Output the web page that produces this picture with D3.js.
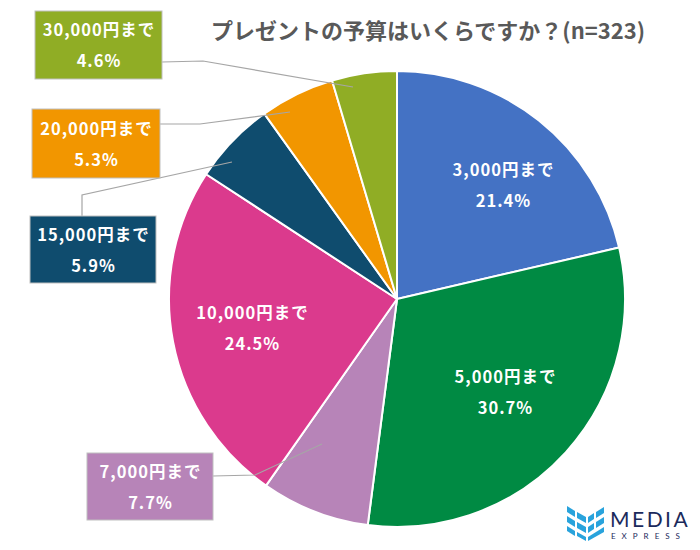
<!DOCTYPE html>
<html><head><meta charset="utf-8">
<script src="https://cdn.jsdelivr.net/npm/d3@7"></script>
<style>
html,body{margin:0;padding:0;background:#fff;}
svg{display:block;font-family:"Noto Sans CJK JP","Noto Sans",sans-serif;}
</style></head>
<body><svg id="c" width="700" height="550"></svg>
<script>
const title = "プレゼントの予算はいくらですか？(n=323)";
const categories = ["3,000円まで","5,000円まで","7,000円まで","10,000円まで","15,000円まで","20,000円まで","30,000円まで"];
const values = [21.4, 30.7, 7.7, 24.5, 5.9, 5.3, 4.6];
const colors = ["#4472C4","#008A43","#B784B8","#DB3A8D","#0F4C6E","#F29600","#90AD25"];

// layout: label placement (inside labels or callout boxes)
const layout = [
  {type:"in", x:503, y:184},
  {type:"in", x:505, y:391},
  {type:"box", bx:87, by:453, bw:126, bh:67, line:[[213,476],[255,475],[322,444]]},
  {type:"in", x:252, y:327},
  {type:"box", bx:30, by:216, bw:126, bh:67, line:[[82,216],[82,195],[232,162]]},
  {type:"box", bx:32, by:109, bw:128, bh:69, line:[[160,124],[200,124],[290,112]]},
  {type:"box", bx:35, by:11, bw:127, bh:68, line:[[162,62],[203,61],[353,87]]}
];

const svg = d3.select("#c");
const cx = 397, cy = 299, R = 228;

svg.append("text").attr("x", 428).attr("y", 39).attr("text-anchor","middle")
  .attr("font-size", 22).attr("font-weight", 700).attr("fill", "#595959").text(title);

const pie = d3.pie().sort(null).value(d => d)(values);
const arc = d3.arc().innerRadius(0).outerRadius(R);
const g = svg.append("g").attr("transform", `translate(${cx},${cy})`);
g.selectAll("path").data(pie).join("path")
  .attr("d", arc).attr("fill", (d,i) => colors[i])
  .attr("stroke", "#fff").attr("stroke-width", 2).attr("stroke-linejoin","round");

// leader lines
const line = d3.line();
layout.forEach((l,i) => {
  if (l.type === "box") {
    svg.append("path").attr("d", line(l.line)).attr("fill","none")
      .attr("stroke","#A6A6A6").attr("stroke-width",1.2);
  }
});

layout.forEach((l,i) => {
  let x, y;
  if (l.type === "in") {
    x = l.x; y = l.y;
  } else {
    svg.append("rect").attr("x", l.bx).attr("y", l.by).attr("width", l.bw).attr("height", l.bh)
      .attr("fill", colors[i]).attr("stroke", "#BFBFBF").attr("stroke-width", 1);
    x = l.bx + l.bw/2; y = l.by + l.bh/2 - 1;
  }
  const t = svg.append("text").attr("text-anchor","middle").attr("fill","#fff")
    .attr("font-size", 16.5).attr("font-weight", 700).attr("letter-spacing", 1);
  t.append("tspan").attr("x", x + 0.5).attr("y", y - 8).text(categories[i]);
  t.append("tspan").attr("x", x + 0.5).attr("y", y + 23).text(values[i].toFixed(1) + "%");
});

// logo
const lg = svg.append("g").attr("transform","translate(567,503)");
const cyan = "#29A3DC";
const polys = [
  [[0,3],[8,8],[8,14],[0,9]],
  [[10,9],[19,14],[19,20],[10,15]],
  [[29,9],[37,4],[37,10],[29,15]],
  [[0,13],[8,18],[8,24],[0,19]],
  [[10,19],[19,24],[19,30],[10,25]],
  [[29,19],[37,14],[37,20],[29,25]],
  [[21,14],[27,10],[27,16],[21,20]],
  [[21,24],[27,20],[27,26],[21,30]],
  [[0,23],[8,28],[8,33],[0,28]],
  [[10,29],[19,34],[19,38],[10,33]],
  [[21,34],[37,24],[37,29],[21,38]]
];
lg.selectAll("polygon").data(polys).join("polygon")
  .attr("points", d => d.map(p => p.join(",")).join(" ")).attr("fill", cyan);
lg.append("text").attr("x", 43).attr("y", 24).attr("font-family","Lato, 'Open Sans', sans-serif")
  .attr("font-size", 21).attr("fill", "#1B2A5C").attr("letter-spacing", 2.5).text("MEDIA");
lg.append("text").attr("x", 44).attr("y", 36).attr("font-family","Lato, 'Open Sans', sans-serif")
  .attr("font-size", 8).attr("fill", "#1B2A5C").attr("letter-spacing", 6).text("EXPRESS");
</script></body></html>
